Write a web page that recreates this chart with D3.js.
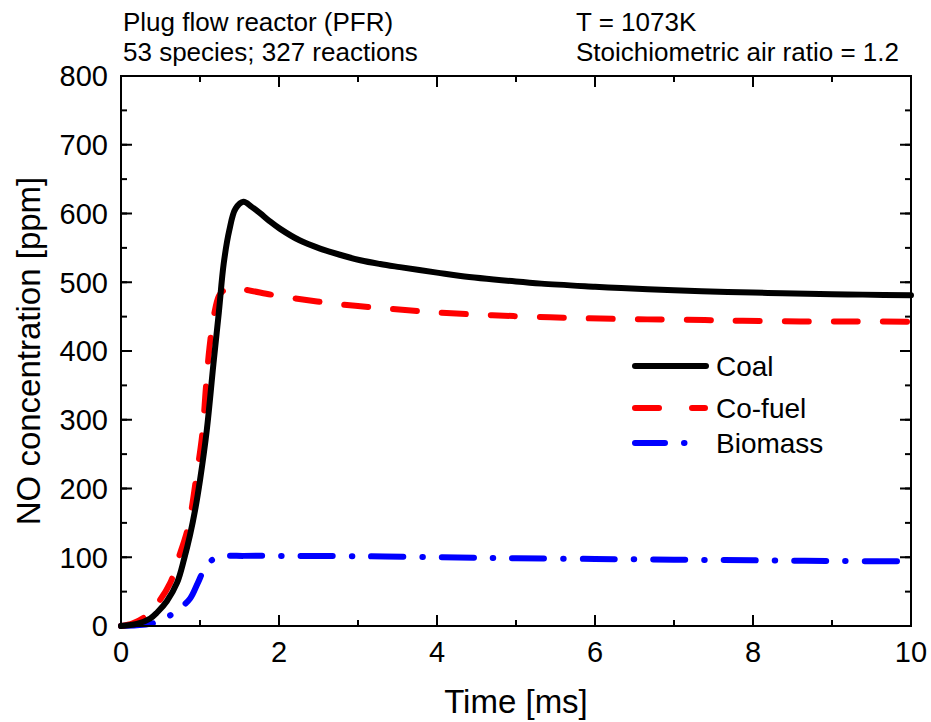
<!DOCTYPE html>
<html>
<head>
<meta charset="utf-8">
<script src="https://cdn.jsdelivr.net/npm/d3@7"></script>
<style>
	body { margin: 0; background: #fff; }
	text { font-family: "Liberation Sans", Arial, sans-serif; fill: #000; }
</style>
</head>
<body>
<script>
// values (time in ms, NO in ppm)
var coalTime = [0, 0.2, 0.37, 0.46, 0.58, 0.71, 0.8, 0.875, 0.94, 1.0, 1.085, 1.17, 1.24, 1.3, 1.37, 1.45, 1.55, 1.65, 1.76, 1.88, 2.01, 2.26, 2.52, 2.77, 3.03, 3.28, 3.53, 4.0, 4.3, 5.0, 5.32, 6.0, 6.33, 7.0, 7.35, 8.0, 8.37, 9.0, 9.39, 10];
var coalNO = [0, 3, 11, 20, 36, 63, 98, 133, 170, 212, 284, 381, 458, 527, 575, 607, 617, 610, 600.5, 589, 578, 561, 549, 540, 532, 526.5, 522, 514, 509, 501, 498, 493.5, 491.5, 488.5, 487, 485, 484, 482.5, 482, 481];

var cofuelTime = [0, 0.15, 0.3, 0.45, 0.62, 0.72, 0.85, 0.96, 1.03, 1.075, 1.12, 1.18, 1.24, 1.3, 1.43, 1.55, 2.05, 2.77, 3.44, 4.0, 4.7, 5.43, 5.92, 6.66, 7.39, 7.87, 8.6, 9.32, 10];
var cofuelNO = [0, 4, 13, 31, 62, 96, 144, 222, 280, 347, 405, 454, 480, 488, 491, 489.5, 479, 468, 461, 456, 452, 449, 447.5, 446, 445, 444, 443, 443, 442.5];

var bioTime = [0, 0.2, 0.37, 0.5, 0.63, 0.75, 0.875, 0.97, 1.075, 1.18, 1.3, 1.55, 2.0, 3.0, 4.0, 4.6, 5.0, 6.0, 7.0, 8.0, 9.0, 10];
var bioNO = [0, 1, 3, 8, 16, 26, 40, 62, 87, 98, 101.6, 102, 102, 101.5, 100, 99, 98.5, 97.5, 96.5, 95.5, 94.5, 94];

var seriesNames = ["Coal", "Co-fuel", "Biomass"];
var xTickValues = [0, 2, 4, 6, 8, 10];
var yTickValues = [0, 100, 200, 300, 400, 500, 600, 700, 800];
var headerLeft = ["Plug flow reactor (PFR)", "53 species; 327 reactions"];
var headerRight = ["T = 1073K", "Stoichiometric air ratio = 1.2"];

var W = 931, H = 722;
// plot box (window.top is taken, so own names)
var pLeft = 121, pRight = 911, pTop = 76, pBottom = 626;

var svg = d3.select("body")
	.append("svg")
	.attr("width", W)
	.attr("height", H);

var x = d3.scaleLinear().domain([0, 10]).range([pLeft, pRight]);
var y = d3.scaleLinear().domain([0, 800]).range([pBottom, pTop]);

var minorX = d3.range(0, 10.01, 1);
var minorY = d3.range(0, 800.1, 50);

// ticks on all four sides, pointing inward
var drawTicks = function(sel, axis, vals, len){
	if(axis === "x"){
		sel.selectAll(null).data(vals).enter().append("line")
			.attr("x1", function(d){ return x(d); })
			.attr("x2", function(d){ return x(d); })
			.attr("y1", pBottom).attr("y2", pBottom - len)
			.attr("stroke", "black").attr("stroke-width", 2);
		sel.selectAll(null).data(vals).enter().append("line")
			.attr("x1", function(d){ return x(d); })
			.attr("x2", function(d){ return x(d); })
			.attr("y1", pTop).attr("y2", pTop + len)
			.attr("stroke", "black").attr("stroke-width", 2);
	}
	else {
		sel.selectAll(null).data(vals).enter().append("line")
			.attr("y1", function(d){ return y(d); })
			.attr("y2", function(d){ return y(d); })
			.attr("x1", pLeft).attr("x2", pLeft + len)
			.attr("stroke", "black").attr("stroke-width", 2);
		sel.selectAll(null).data(vals).enter().append("line")
			.attr("y1", function(d){ return y(d); })
			.attr("y2", function(d){ return y(d); })
			.attr("x1", pRight).attr("x2", pRight - len)
			.attr("stroke", "black").attr("stroke-width", 2);
	}
};

var ticks = svg.append("g");
drawTicks(ticks, "x", minorX, 6);
drawTicks(ticks, "x", xTickValues, 11);
drawTicks(ticks, "y", minorY, 6);
drawTicks(ticks, "y", yTickValues, 11);

// tick labels
svg.selectAll("text.xl").data(xTickValues).enter().append("text")
	.attr("class", "xl")
	.attr("x", function(d){ return x(d); })
	.attr("y", 662)
	.attr("text-anchor", "middle")
	.attr("font-size", 29)
	.text(function(d){ return d; });

svg.selectAll("text.yl").data(yTickValues).enter().append("text")
	.attr("class", "yl")
	.attr("x", 108)
	.attr("y", function(d){ return y(d) + 10.4; })
	.attr("text-anchor", "end")
	.attr("font-size", 29)
	.text(function(d){ return d; });

// axis titles
svg.append("text")
	.attr("x", (pLeft + pRight) / 2)
	.attr("y", 713)
	.attr("text-anchor", "middle")
	.attr("font-size", 33)
	.text("Time [ms]");

svg.append("text")
	.attr("transform", "translate(40," + (pTop + pBottom) / 2 + ") rotate(-90)")
	.attr("text-anchor", "middle")
	.attr("font-size", 33)
	.text("NO concentration [ppm]");

// header notes
svg.selectAll("text.hl").data(headerLeft).enter().append("text")
	.attr("class", "hl")
	.attr("x", 123)
	.attr("y", function(d, i){ return 31 + i * 30; })
	.attr("font-size", 26)
	.text(function(d){ return d; });

svg.selectAll("text.hr").data(headerRight).enter().append("text")
	.attr("class", "hr")
	.attr("x", 576)
	.attr("y", function(d, i){ return 31 + i * 30; })
	.attr("font-size", 26)
	.text(function(d){ return d; });

// curves
var line = d3.line()
	.x(function(d){ return x(d[0]); })
	.y(function(d){ return y(d[1]); })
	.curve(d3.curveCatmullRom.alpha(0.5));

var styles = [
	{ color: "#000000", dash: null },
	{ color: "#ff0000", dash: "24,25" },
	{ color: "#0000ff", dash: "32,19,0.5,19" }
];

var series = [
	d3.zip(coalTime, coalNO),
	d3.zip(cofuelTime, cofuelNO),
	d3.zip(bioTime, bioNO)
];

// biomass drawn first so the others sit on top
[2, 1, 0].forEach(function(i){
	svg.append("path")
		.attr("d", line(series[i]))
		.attr("fill", "none")
		.attr("stroke", styles[i].color)
		.attr("stroke-width", 6)
		.attr("stroke-linecap", "round")
		.attr("stroke-linejoin", "round")
		.attr("stroke-dasharray", styles[i].dash);
});

// frame
svg.append("rect")
	.attr("x", pLeft)
	.attr("y", pTop)
	.attr("width", pRight - pLeft)
	.attr("height", pBottom - pTop)
	.attr("fill", "none")
	.attr("stroke", "black")
	.attr("stroke-width", 2);

// legend
var legY = [366, 408, 443];
var legEnd = [706, 705, 686];
var legDash = [null, "24,33", "30,19,0.5,19"];
var leg = svg.append("g");
seriesNames.forEach(function(name, i){
	leg.append("line")
		.attr("x1", 635).attr("x2", legEnd[i])
		.attr("y1", legY[i]).attr("y2", legY[i])
		.attr("stroke", styles[i].color)
		.attr("stroke-width", 6)
		.attr("stroke-linecap", "round")
		.attr("stroke-dasharray", legDash[i]);
	leg.append("text")
		.attr("x", 716)
		.attr("y", legY[i] + 10)
		.attr("font-size", 28)
		.text(name);
});
</script>
</body>
</html>
